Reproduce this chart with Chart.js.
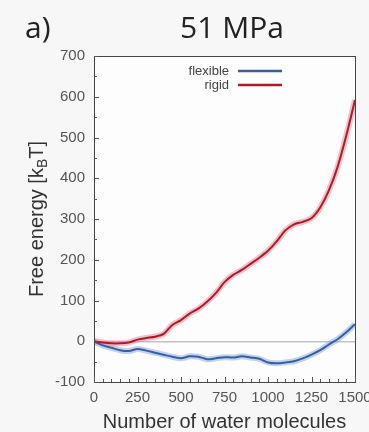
<!DOCTYPE html>
<html><head><meta charset="utf-8">
<script src="https://cdn.jsdelivr.net/npm/chart.js@4/dist/chart.umd.min.js"></script>
<style>html,body{margin:0;padding:0;background:#f7f7f7;overflow:hidden;}#wrap{width:369px;height:432px;position:relative;}</style>
</head><body><div id="wrap"><canvas id="c" width="369" height="432"></canvas></div>
<script>
const xValues = [0,50,100,150,200,250,300,350,400,450,500,550,600,650,700,750,800,850,900,950,1000,1050,1100,1150,1200,1250,1300,1350,1400,1450,1500];
const rigid = [0,-3,-5,-5,-3,4,8,11,18,40,52,68,80,97,118,145,163,175,190,205,222,245,272,287,293,302,328,370,428,505,592];
const flexible = [0,-10,-16,-22,-24,-19,-23,-28,-33,-38,-42,-37,-38,-44,-42,-39,-40,-37,-40,-43,-52,-54,-52,-49,-42,-33,-22,-8,5,22,42];
const xTickValues = [0,250,500,750,1000,1250,1500];
const yTickValues = [-100,0,100,200,300,400,500,600,700];
const seriesNames = ['flexible','rigid'];
const titleText = '51 MPa';
const panelText = 'a)';
const xTitle = 'Number of water molecules';

const pts = arr => xValues.map((x,i)=>({x:x,y:arr[i]}));
const BLUE = '#3a5d9c', RED = '#a81d2c';

const deco = {
  id:'deco',
  beforeDraw(chart){
    const {ctx, chartArea:a} = chart;
    ctx.save();
    ctx.fillStyle = '#f7f7f7';
    ctx.fillRect(0,0,chart.width,chart.height);
    ctx.fillStyle = '#fdfdfd';
    ctx.fillRect(a.left,a.top,a.right-a.left,a.bottom-a.top);
    ctx.restore();
  },
  afterDraw(chart){
    const {ctx, chartArea:a} = chart;
    const xs = chart.scales.x, ys = chart.scales.y;
    ctx.save();
    ctx.strokeStyle = '#444'; ctx.lineWidth = 1;
    ctx.strokeRect(Math.round(a.left)+0.5, Math.round(a.top)+0.5, Math.round(a.right-a.left), Math.round(a.bottom-a.top));
    ctx.strokeStyle = '#555';
    ctx.beginPath();
    for (let v=-100; v<=700; v+=50){
      const y = Math.round(ys.getPixelForValue(v))+0.5;
      const l = v%100===0 ? 5 : 3;
      ctx.moveTo(a.left, y); ctx.lineTo(a.left+l, y);
    }
    for (let v=0; v<=1500; v+=50){
      const x = Math.round(xs.getPixelForValue(v))+0.5;
      const l = v%250===0 ? 5 : 3;
      ctx.moveTo(x, a.bottom); ctx.lineTo(x, a.bottom-l);
    }
    ctx.stroke();
    ctx.fillStyle = '#222';
    ctx.font = '30px "Open Sans"';
    ctx.textBaseline = 'alphabetic';
    ctx.textAlign = 'left';
    ctx.fillText(panelText, 25, 38);
    ctx.textAlign = 'center';
    ctx.fillText(titleText, 232, 38);
    ctx.font = '13px "Liberation Sans"';
    ctx.fillStyle = '#444';
    ctx.textAlign = 'right';
    ctx.textBaseline = 'middle';
    const cols = [BLUE, RED];
    seriesNames.forEach((n,i)=>{
      const y = 71 + i*14;
      ctx.fillText(n, 229, y);
      ctx.strokeStyle = cols[i]; ctx.lineWidth = 2.5;
      ctx.beginPath(); ctx.moveTo(238,y); ctx.lineTo(282,y); ctx.stroke();
    });
    ctx.translate(43, (a.top+a.bottom)/2);
    ctx.rotate(-Math.PI/2);
    ctx.fillStyle = '#333';
    ctx.textAlign = 'left'; ctx.textBaseline = 'alphabetic';
    const f1 = '20px "Liberation Sans"', f2 = '14px "Liberation Sans"';
    const p1 = 'Free energy [k', p2 = 'B', p3 = 'T]';
    ctx.font = f1; const w1 = ctx.measureText(p1).width, w3 = ctx.measureText(p3).width;
    ctx.font = f2; const w2 = ctx.measureText(p2).width;
    let x0 = -(w1+w2+w3)/2;
    ctx.font = f1; ctx.fillText(p1, x0, 0);
    ctx.font = f2; ctx.fillText(p2, x0+w1, 4);
    ctx.font = f1; ctx.fillText(p3, x0+w1+w2, 0);
    ctx.restore();
  }
};

new Chart(document.getElementById('c'), {
  type:'line',
  data:{datasets:[
    {label:'rigid', data:pts(rigid), borderColor:RED, borderWidth:2, pointRadius:0, tension:0.3, order:1},
    {label:'flexible', data:pts(flexible), borderColor:BLUE, borderWidth:2, pointRadius:0, tension:0.3, order:2},
    {label:'rigid band', data:pts(rigid), borderColor:'rgba(235,120,135,0.45)', borderWidth:6, pointRadius:0, tension:0.3, order:3},
    {label:'flexible band', data:pts(flexible), borderColor:'rgba(120,160,225,0.45)', borderWidth:6, pointRadius:0, tension:0.3, order:4}
  ]},
  options:{
    responsive:false, animation:false, devicePixelRatio:1,
    layout:{padding:{top:56,right:14,left:0,bottom:0}},
    plugins:{legend:{display:false}, tooltip:{enabled:false}},
    scales:{
      x:{type:'linear', min:0, max:1500,
        afterBuildTicks(s){ s.ticks = xTickValues.map(v=>({value:v})); },
        afterFit(s){ s.height = 50; s.paddingLeft = 0; s.paddingRight = 0; },
        grid:{display:false, drawTicks:false}, border:{display:false},
        ticks:{padding:7, color:'#555', font:{family:'Liberation Sans', size:15}, maxRotation:0, autoSkip:false, callback:v=>String(v)},
        title:{display:true, text:xTitle, color:'#333', font:{family:'Liberation Sans', size:20, lineHeight:1}, padding:{top:0,bottom:0}}
      },
      y:{type:'linear', min:-100, max:700,
        afterBuildTicks(s){ s.ticks = yTickValues.map(v=>({value:v})); },
        afterFit(s){ s.width = 94; s.paddingTop = 0; s.paddingBottom = 0; },
        grid:{drawTicks:false, lineWidth:1.5, color:ctx=> (ctx.tick && ctx.tick.value===0) ? '#c4c4c4' : 'rgba(0,0,0,0)'},
        border:{display:false},
        ticks:{padding:9, color:'#555', font:{family:'Liberation Sans', size:15}, autoSkip:false, callback:v=>String(v)}
      }
    }
  },
  plugins:[deco]
});
</script></body></html>
